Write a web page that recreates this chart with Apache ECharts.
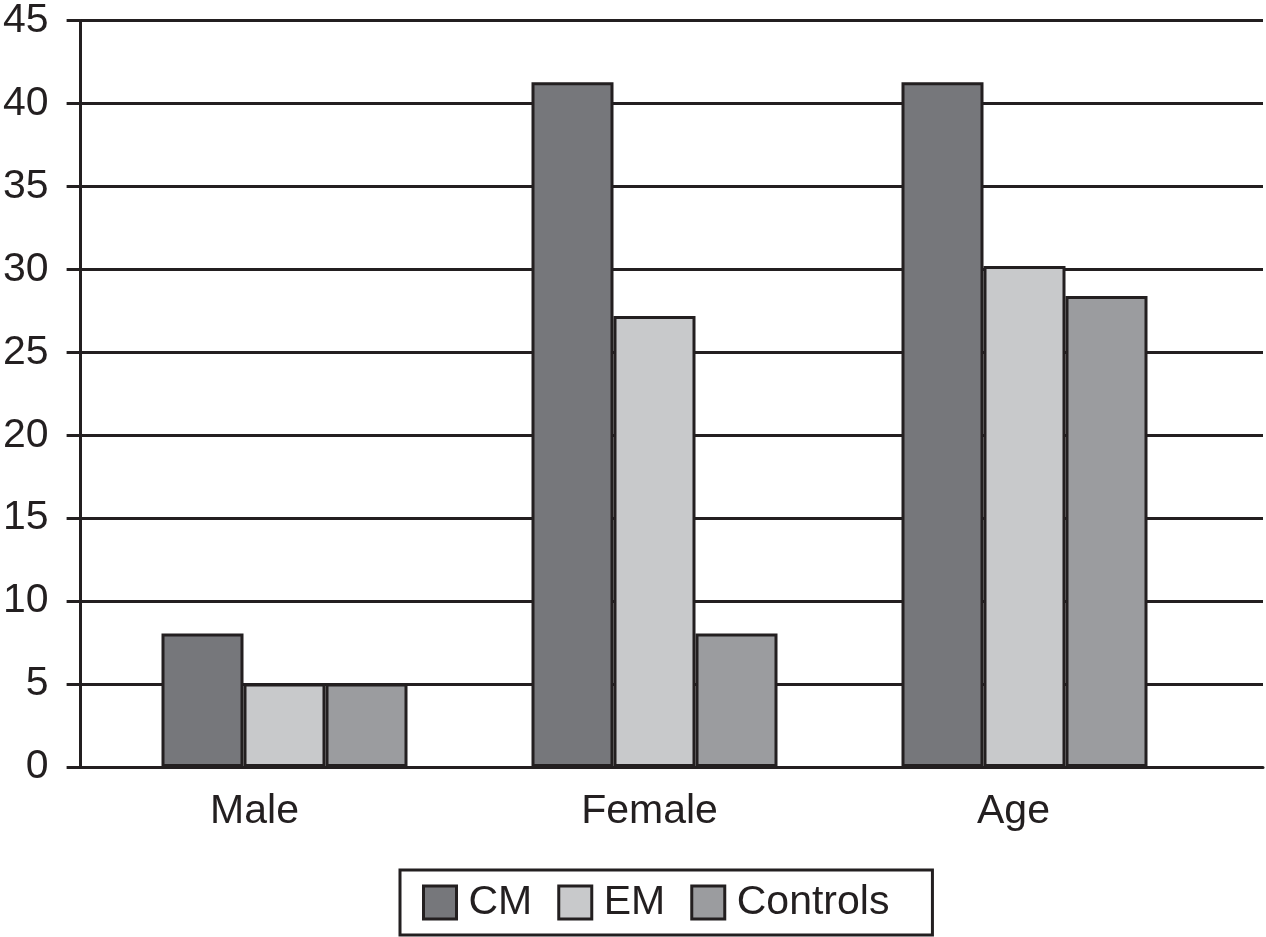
<!DOCTYPE html>
<html>
<head>
<meta charset="utf-8">
<script src="https://cdn.jsdelivr.net/npm/echarts@6/dist/echarts.min.js"></script>
<style>html,body{margin:0;padding:0;background:#fff;}#c{width:1266px;height:937px;}</style>
</head>
<body>
<div id="c"></div>
<script>
const categories = ['Male', 'Female', 'Age'];
const cmValues = [8, 41, 41];
const emValues = [5, 27, 30];
const controlValues = [5, 8, 28.2];
const yTicks = [0, 5, 10, 15, 20, 25, 30, 35, 40, 45];

const ink = '#231f20';
const font = 'Liberation Sans, Arial, Helvetica, sans-serif';
const fs = 41;
const labelShift = {Male: 30, Female: 5, Age: 11};

const rich = {};
categories.forEach(c => {
  rich[c] = {fontFamily: font, fontSize: fs, color: ink, padding: [0, 2 * labelShift[c], 0, 0]};
});

const chart = echarts.init(document.getElementById('c'));
const barBase = {
  type: 'bar', xAxisIndex: 1, yAxisIndex: 1, barWidth: 82, barGap: '0%'
};
chart.setOption({
  animation: false,
  backgroundColor: '#fff',
  grid: [
    {left: 80, right: 3, top: 15.5, bottom: 170},
    {left: 99.5, width: 1110, top: 15.5, bottom: 170}
  ],
  xAxis: [
    {gridIndex: 0, type: 'value', min: 0, max: 1, axisLine: {show: true, onZero: false, lineStyle: {color: ink, width: 3}},
     axisTick: {show: false}, axisLabel: {show: false}, splitLine: {show: false}},
    {gridIndex: 1, type: 'category', data: categories, axisLine: {show: false}, axisTick: {show: false},
     axisLabel: {interval: 0, hideOverlap: false, margin: 24, color: ink, fontFamily: font, fontSize: fs,
       formatter: v => '{' + v + '|' + v + '}', rich: rich}}
  ],
  yAxis: [
    {gridIndex: 0, type: 'value', min: yTicks[0], max: yTicks[yTicks.length - 1], interval: 5,
     axisLine: {show: true, lineStyle: {color: ink, width: 3}},
     axisTick: {show: true, length: 14, lineStyle: {color: ink, width: 3}},
     axisLabel: {margin: 32, color: ink, fontFamily: font, fontSize: fs},
     splitLine: {show: true, lineStyle: {color: ink, width: 3}}},
    {gridIndex: 1, type: 'value', min: 0, max: 45, show: false}
  ],
  legend: {
    left: 400, bottom: 2,
    padding: [12, 43, 12, 22],
    backgroundColor: '#fff', borderColor: ink, borderWidth: 3,
    itemWidth: 33, itemHeight: 33, itemGap: 25, icon: 'rect',
    itemStyle: {borderColor: ink, borderWidth: 3},
    textStyle: {fontFamily: font, fontSize: fs, lineHeight: 33, color: ink, padding: [0, 0, 0, 7]},
    data: ['CM', 'EM', 'Controls']
  },
  series: [
    Object.assign({}, barBase, {name: 'CM', data: cmValues, itemStyle: {color: '#76777b', borderColor: ink, borderWidth: 3}}),
    Object.assign({}, barBase, {name: 'EM', data: emValues, itemStyle: {color: '#c8c9cb', borderColor: ink, borderWidth: 3}}),
    Object.assign({}, barBase, {name: 'Controls', data: controlValues, itemStyle: {color: '#9b9c9f', borderColor: ink, borderWidth: 3}})
  ]
});
</script>
</body>
</html>
